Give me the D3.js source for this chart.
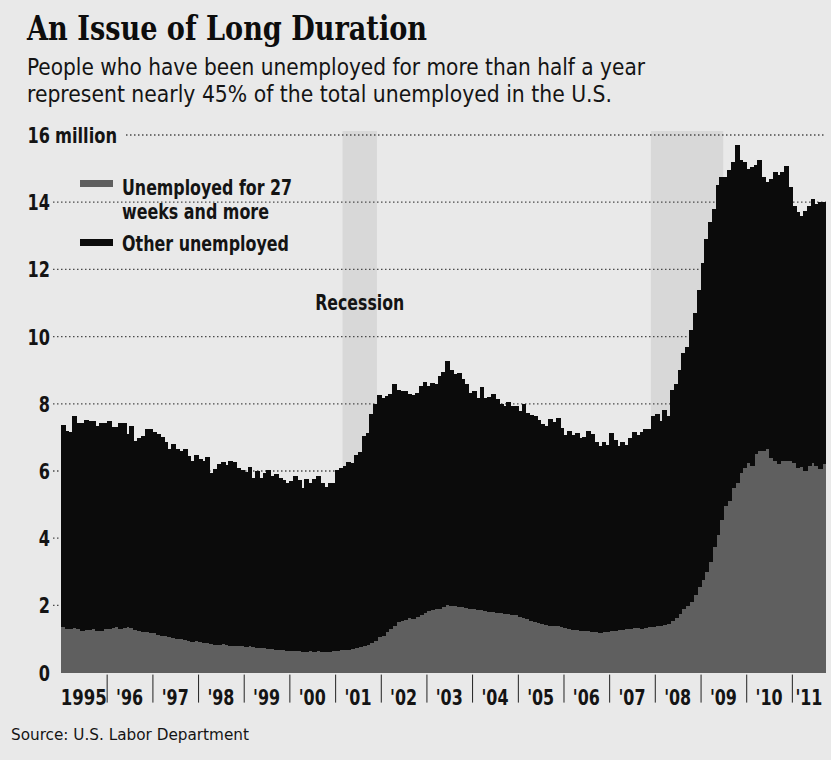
<!DOCTYPE html>
<html><head><meta charset="utf-8">
<script src="https://cdn.jsdelivr.net/npm/d3@7"></script>
<style>
html,body{margin:0;padding:0;background:#e9e9e9;}
svg{display:block;}
.cond{font-family:"DejaVu Sans Condensed","DejaVu Sans",sans-serif;font-stretch:condensed;fill:#141414;}
</style></head><body>
<svg id="chart" width="831" height="760"></svg>
<script>
// ---------------- DATA (millions, monthly, Jan 1995 – Sep 2011) ----------------
const totalUnemployed = [
  7.38,7.19,7.15,7.65,7.43,7.43,7.53,7.48,7.48,7.33,7.43,7.42,
  7.49,7.31,7.32,7.42,7.42,7.10,7.34,6.88,6.98,7.03,7.24,7.25,
  7.16,7.10,7.00,6.87,6.66,6.80,6.66,6.61,6.66,6.45,6.31,6.48,
  6.37,6.31,6.42,5.94,6.05,6.21,6.26,6.18,6.30,6.28,6.10,6.03,
  5.98,6.11,5.78,6.00,5.80,5.95,6.03,5.84,5.92,5.78,5.72,5.65,
  5.71,5.86,5.73,5.48,5.76,5.65,5.75,5.85,5.63,5.53,5.64,5.63,
  6.02,6.09,6.14,6.27,6.23,6.48,6.58,7.04,7.14,7.69,8.00,8.26,
  8.18,8.22,8.30,8.60,8.40,8.39,8.39,8.30,8.25,8.31,8.52,8.64,
  8.52,8.62,8.59,8.84,8.96,9.27,9.01,8.90,8.92,8.73,8.58,8.32,
  8.37,8.17,8.49,8.17,8.21,8.29,8.14,7.99,7.93,8.06,7.93,7.93,
  7.78,7.98,7.74,7.67,7.65,7.52,7.41,7.35,7.55,7.45,7.57,7.28,
  7.06,7.18,7.07,7.12,6.98,7.00,7.18,7.09,6.85,6.73,6.87,6.76,
  7.12,6.93,6.73,6.85,6.77,6.98,7.15,7.07,7.17,7.24,7.24,7.65,
  7.69,7.50,7.82,7.64,8.40,8.60,9.00,9.50,9.70,10.20,10.70,11.40,
  12.20,12.90,13.40,13.80,14.50,14.75,14.75,14.95,15.20,15.70,15.25,15.20,
  15.00,15.05,15.10,15.25,14.75,14.60,14.70,14.90,14.80,14.90,15.08,14.45,
  13.90,13.70,13.60,13.75,13.90,14.10,13.95,14.00,14.02
];
const longTermUnemployed = [
  1.35,1.30,1.30,1.32,1.30,1.25,1.28,1.28,1.30,1.25,1.25,1.30,
  1.30,1.32,1.35,1.30,1.32,1.35,1.32,1.28,1.25,1.22,1.20,1.18,
  1.18,1.12,1.10,1.08,1.05,1.02,1.00,1.00,0.98,0.95,0.92,0.95,
  0.90,0.88,0.88,0.85,0.82,0.82,0.85,0.82,0.80,0.78,0.78,0.78,
  0.77,0.78,0.75,0.73,0.72,0.72,0.70,0.70,0.68,0.66,0.66,0.65,
  0.65,0.64,0.63,0.62,0.62,0.63,0.62,0.64,0.62,0.60,0.62,0.63,
  0.65,0.66,0.68,0.68,0.70,0.72,0.75,0.78,0.82,0.88,0.95,1.05,
  1.10,1.20,1.30,1.40,1.50,1.55,1.58,1.62,1.60,1.65,1.70,1.78,
  1.82,1.85,1.88,1.90,1.95,2.00,1.98,1.98,1.95,1.95,1.92,1.90,
  1.88,1.85,1.86,1.82,1.80,1.80,1.78,1.76,1.74,1.75,1.72,1.70,
  1.65,1.62,1.60,1.55,1.50,1.48,1.45,1.42,1.40,1.38,1.38,1.36,
  1.32,1.30,1.28,1.28,1.25,1.24,1.24,1.22,1.20,1.18,1.20,1.22,
  1.24,1.25,1.26,1.28,1.30,1.30,1.32,1.32,1.30,1.34,1.36,1.36,
  1.38,1.40,1.42,1.45,1.55,1.62,1.75,1.90,1.98,2.10,2.30,2.55,
  2.75,3.00,3.30,3.75,4.10,4.55,4.95,5.10,5.50,5.65,5.95,6.10,
  6.25,6.15,6.50,6.60,6.60,6.65,6.40,6.30,6.20,6.30,6.30,6.30,
  6.25,6.10,6.12,6.00,6.15,6.25,6.15,6.05,6.20
];
const yTickValues = [0,2,4,6,8,10,12,14,16];
const yearLabels = ["1995","'96","'97","'98","'99","'00","'01","'02","'03","'04","'05","'06","'07","'08","'09","'10","'11"];
const recessions = [["2001-03","2001-11"],["2007-12","2009-06"]];
const seriesNames = ["Unemployed for 27|weeks and more","Other unemployed"];
const titleText = "An Issue of Long Duration";
const subtitleLines = ["People who have been unemployed for more than half a year","represent nearly 45% of the total unemployed in the U.S."];
const sourceText = "Source: U.S. Labor Department";

// ---------------- LAYOUT ----------------
const svg = d3.select("#chart");
const X0 = 61, X1 = 826, YTOP = 135, YBASE = 672.6;
const colLong = "#5f5f5f", colOther = "#0b0b0b", bg = "#e9e9e9", bandCol = "#d8d8d8";

svg.append("rect").attr("width",831).attr("height",760).attr("fill",bg);

const start = new Date(1995,0,1);
const months = d3.timeMonth.range(start, d3.timeMonth.offset(start, totalUnemployed.length));
const end = d3.timeMonth.offset(start, totalUnemployed.length);
const x = d3.scaleTime().domain([start,end]).range([X0,X1]);
const y = d3.scaleLinear().domain([0,16]).range([YBASE,YTOP]);

const table = months.map((m,i)=>({date:m, longTerm:longTermUnemployed[i], other:totalUnemployed[i]-longTermUnemployed[i]}));
const stack = d3.stack().keys(["longTerm","other"])(table);

// recession bands
const parse = d3.timeParse("%Y-%m");
svg.append("g").selectAll("rect").data(recessions).join("rect")
  .attr("x",d=>x(parse(d[0])))
  .attr("width",d=>x(d3.timeMonth.offset(parse(d[1]),1))-x(parse(d[0])))
  .attr("y",131).attr("height",YBASE-131)
  .attr("fill",bandCol);

// gridlines
svg.append("g").selectAll("line").data(yTickValues.filter(v=>v>0)).join("line")
  .attr("x1",v=>v===16?126:53).attr("x2",X1)
  .attr("y1",v=>y(v)).attr("y2",v=>y(v))
  .attr("stroke","#4a4a4a").attr("stroke-width",1.3).attr("stroke-dasharray","1.5,2.5");

// bars
const colors = [colLong, colOther];
stack.forEach((layer,li)=>{
  svg.append("g").attr("shape-rendering","crispEdges").selectAll("rect").data(layer).join("rect")
    .attr("x",d=>x(d.data.date))
    .attr("width",d=>Math.min(x(d3.timeMonth.offset(d.data.date,1))+1, X1)-x(d.data.date))
    .attr("y",d=>y(d[1]))
    .attr("height",d=>y(d[0])-y(d[1]))
    .attr("fill",colors[li]);
});

// y axis labels
const yAxis = svg.append("g").attr("transform","translate(50,0)")
  .call(d3.axisLeft(y).tickValues(yTickValues).tickSize(0).tickPadding(0));
yAxis.select(".domain").remove();
yAxis.selectAll("text").attr("class","cond").attr("font-size",21).attr("font-weight","bold").attr("dy","0.36em")
  .attr("textLength",d=>String(d).length*11.2).attr("lengthAdjust","spacingAndGlyphs");
svg.append("text").attr("class","cond").attr("x",55).attr("y",y(16)).attr("dy","0.36em")
  .attr("font-size",21).attr("font-weight","bold")
  .attr("textLength",62).attr("lengthAdjust","spacingAndGlyphs").text("million");

// x axis ticks
const yearStarts = d3.range(1996,2012).map(yr=>new Date(yr,0,1));
const xAxis = svg.append("g").attr("transform",`translate(0,${YBASE+2})`)
  .call(d3.axisBottom(x).tickValues(yearStarts).tickSize(28).tickFormat(""));
xAxis.select(".domain").remove();
xAxis.selectAll("line").attr("stroke","#222").attr("stroke-width",1);

// x labels centred in each year
svg.append("g").selectAll("text").data(yearLabels).join("text")
  .attr("class","cond").attr("font-size",21).attr("font-weight","bold")
  .attr("text-anchor","middle")
  .attr("x",(d,i)=>{const a=x(new Date(1995+i,0,1)); const b=Math.min(x(new Date(1996+i,0,1)),X1); return (a+b)/2;})
  .attr("y",705)
  .attr("textLength",d=>d.length===4?46:27).attr("lengthAdjust","spacingAndGlyphs")
  .text(d=>d);

// recession label
const r0 = recessions[0];
svg.append("text").attr("class","cond").attr("font-size",21).attr("font-weight","bold").attr("text-anchor","middle")
  .attr("x",(x(parse(r0[0]))+x(d3.timeMonth.offset(parse(r0[1]),1)))/2).attr("y",310)
  .attr("textLength",89).attr("lengthAdjust","spacingAndGlyphs").text("Recession");

// legend
const lg = svg.append("g");
lg.append("rect").attr("x",80).attr("y",180).attr("width",33).attr("height",7).attr("fill",colLong);
lg.append("rect").attr("x",80).attr("y",239).attr("width",33).attr("height",7).attr("fill",colOther);
const l1 = seriesNames[0].split("|");
const legTexts = [[l1[0],195,170],[l1[1],219,147],[seriesNames[1],251,167]];
legTexts.forEach(([t,yy,w])=>{
  lg.append("text").attr("class","cond").attr("font-size",21).attr("font-weight","bold")
    .attr("x",122).attr("y",yy).attr("textLength",w).attr("lengthAdjust","spacingAndGlyphs").text(t);
});

// title, subtitle, source
svg.append("text").attr("x",27).attr("y",40)
  .attr("font-family","'DejaVu Serif Condensed','DejaVu Serif',serif").attr("font-stretch","condensed")
  .attr("font-weight","bold").attr("font-size",34).attr("fill","#0d0d0d")
  .attr("textLength",400).attr("lengthAdjust","spacingAndGlyphs").text(titleText);
svg.append("text").attr("class","cond").attr("x",27).attr("y",75).attr("font-size",22.5)
  .attr("textLength",618).attr("lengthAdjust","spacingAndGlyphs").text(subtitleLines[0]);
svg.append("text").attr("class","cond").attr("x",27).attr("y",102).attr("font-size",22.5)
  .attr("textLength",585).attr("lengthAdjust","spacingAndGlyphs").text(subtitleLines[1]);
svg.append("text").attr("class","cond").attr("x",11).attr("y",740).attr("font-size",16.5)
  .attr("textLength",238).attr("lengthAdjust","spacingAndGlyphs").text(sourceText);
</script>
</body></html>
